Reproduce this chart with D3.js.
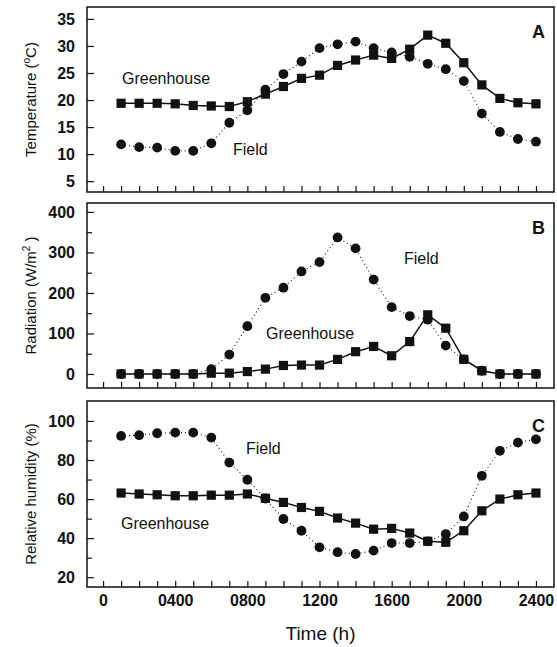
<!DOCTYPE html>
<html>
<head>
<meta charset="utf-8">
<script src="https://cdn.jsdelivr.net/npm/d3@7"></script>
<style>
body { margin: 0; background: #fff; }
svg text { font-family: "Liberation Sans", Arial, Helvetica, sans-serif; fill: #111; }
</style>
</head>
<body>
<svg id="chart" width="557" height="647"></svg>
<script>
// hours of day (sampling times)
var hours = [100, 200, 300, 400, 500, 600, 700, 800, 900, 1000, 1100, 1200,
             1300, 1400, 1500, 1600, 1700, 1800, 1900, 2000, 2100, 2200, 2300, 2400];
var timeTicks = [0, 400, 800, 1200, 1600, 2000, 2400];
var timeTickLabels = ["0", "0400", "0800", "1200", "1600", "2000", "2400"];

// A - temperature (C)
var tempGreenhouse = [19.4, 19.4, 19.4, 19.3, 19.0, 18.9, 18.8, 19.7, 21.1, 22.5, 24.0, 24.6,
                      26.4, 27.4, 28.3, 27.7, 29.4, 32.0, 30.5, 26.9, 22.8, 20.3, 19.5, 19.3];
var tempField = [11.8, 11.3, 11.2, 10.6, 10.6, 12.0, 15.8, 18.1, 21.9, 24.8, 27.1, 29.6,
                 30.3, 30.8, 29.6, 28.8, 28.0, 26.7, 25.7, 23.5, 17.5, 14.1, 12.8, 12.3];
var tempTicks = [5, 10, 15, 20, 25, 30, 35];

// B - radiation (W/m2)
var radGreenhouse = [0, 0, 0, 0, 0, 2, 2, 6, 12, 21, 22, 22,
                     36, 55, 68, 45, 80, 146, 113, 36, 8, 0, 0, 0];
var radField = [0, 0, 0, 0, 0, 12, 48, 118, 188, 213, 253, 276,
                337, 310, 233, 165, 143, 134, 70, 36, 8, 0, 0, 0];
var radTicks = [0, 100, 200, 300, 400];
var radMinor = [50, 150, 250, 350];

// C - relative humidity (%)
var rhGreenhouse = [63.1, 62.6, 62.2, 61.7, 61.7, 62.0, 62.0, 62.6, 60.4, 58.3, 55.7, 53.7,
                    50.3, 47.7, 44.6, 45.0, 42.6, 38.4, 37.9, 43.8, 54.0, 60.0, 62.2, 63.1];
var rhField = [92.3, 92.7, 93.7, 94.0, 94.0, 91.5, 78.7, 69.9, 60.3, 49.8, 43.8, 35.3,
               32.8, 31.9, 33.6, 37.5, 37.5, 38.4, 42.1, 51.1, 71.9, 84.7, 88.9, 90.6];
var rhTicks = [20, 40, 60, 80, 100];
var rhMinor = [30, 50, 70, 90];

var svg = d3.select("#chart");
var left = 87, right = 554;

var x = d3.scaleLinear().domain([-89, 2500]).range([left, right]);

var panels = [
  { letter: "A", top: 7, bottom: 192, domain: [3, 37.2], ticks: tempTicks, minor: [],
    gh: tempGreenhouse, fd: tempField, title: ["Temperature (", "o", "C)"],
    ghLabel: [122, 84], fdLabel: [233, 155] },
  { letter: "B", top: 203, bottom: 388, domain: [-34.6, 422], ticks: radTicks, minor: radMinor,
    gh: radGreenhouse, fd: radField, title: ["Radiation (W/m", "2", " )"],
    ghLabel: [266, 339], fdLabel: [404, 264] },
  { letter: "C", top: 401, bottom: 587, domain: [15, 110.2], ticks: rhTicks, minor: rhMinor,
    gh: rhGreenhouse, fd: rhField, title: ["Relative humidity (%)"],
    ghLabel: [121, 529], fdLabel: [246, 454] }
];

panels.forEach(function(p, pi) {
  var y = d3.scaleLinear().domain(p.domain).range([p.bottom, p.top]);
  var g = svg.append("g");
  var last = pi === panels.length - 1;

  // x ticks, inward
  var xAxis = d3.axisBottom(x).tickValues(d3.range(0, 2401, 100))
    .tickSizeInner(-6).tickSizeOuter(0).tickPadding(8)
    .tickFormat(function(d) {
      var i = timeTicks.indexOf(d);
      return (last && i >= 0) ? timeTickLabels[i] : "";
    });
  var xg = g.append("g").attr("transform", "translate(0," + p.bottom + ")").call(xAxis);
  xg.select(".domain").remove();
  xg.selectAll("text").style("font-size", "16px").style("font-weight", "bold");

  // y ticks, inward
  var yAxis = d3.axisLeft(y).tickValues(p.ticks).tickSizeInner(-7).tickSizeOuter(0).tickPadding(12);
  var yg = g.append("g").attr("transform", "translate(" + left + ",0)").call(yAxis);
  yg.select(".domain").remove();
  yg.selectAll("text").style("font-size", "16px").style("font-weight", "bold");
  if (p.minor.length) {
    var ym = g.append("g").attr("transform", "translate(" + left + ",0)")
      .call(d3.axisLeft(y).tickValues(p.minor).tickSizeInner(-5).tickSizeOuter(0).tickFormat(""));
    ym.select(".domain").remove();
  }
  g.selectAll(".tick line").attr("stroke", "#111").attr("stroke-width", 1.2);

  // frame
  g.append("rect").attr("x", left).attr("y", p.top)
    .attr("width", right - left).attr("height", p.bottom - p.top)
    .attr("fill", "none").attr("stroke", "#111").attr("stroke-width", 1.5);

  var line = function(vals) {
    return d3.line().x(function(d, i) { return x(hours[i]); })
      .y(function(d) { return y(d); })(vals);
  };

  g.append("path").attr("d", line(p.gh)).attr("fill", "none")
    .attr("stroke", "#111").attr("stroke-width", 1.5);
  g.append("path").attr("d", line(p.fd)).attr("fill", "none")
    .attr("stroke", "#111").attr("stroke-width", 1.1).attr("stroke-dasharray", "1,3");

  g.selectAll("rect.gh").data(p.gh).enter().append("rect").attr("class", "gh")
    .attr("x", function(d, i) { return x(hours[i]) - 4.6; })
    .attr("y", function(d) { return y(d) - 4.6; })
    .attr("width", 9.2).attr("height", 9.2).attr("fill", "#111");
  g.selectAll("circle.fd").data(p.fd).enter().append("circle").attr("class", "fd")
    .attr("cx", function(d, i) { return x(hours[i]); })
    .attr("cy", function(d) { return y(d); })
    .attr("r", 4.9).attr("fill", "#111");

  // labels
  g.append("text").attr("x", p.ghLabel[0]).attr("y", p.ghLabel[1])
    .style("font-size", "16px").text("Greenhouse");
  g.append("text").attr("x", p.fdLabel[0]).attr("y", p.fdLabel[1])
    .style("font-size", "16px").text("Field");
  g.append("text").attr("x", 545).attr("y", p.top + 31).attr("text-anchor", "end")
    .style("font-size", "18px").style("font-weight", "bold").text(p.letter);

  // y title
  var t = g.append("text")
    .attr("transform", "translate(36," + ((p.top + p.bottom) / 2) + ") rotate(-90)")
    .attr("text-anchor", "middle").style("font-size", "15px");
  t.append("tspan").text(p.title[0]);
  if (p.title.length > 1) {
    t.append("tspan").attr("dy", -6).style("font-size", "10px").text(p.title[1]);
    t.append("tspan").attr("dy", 6).text(p.title[2]);
  }
});

svg.append("text").attr("x", (left + right) / 2).attr("y", 640)
  .attr("text-anchor", "middle").style("font-size", "19px").text("Time (h)");
</script>
</body>
</html>
